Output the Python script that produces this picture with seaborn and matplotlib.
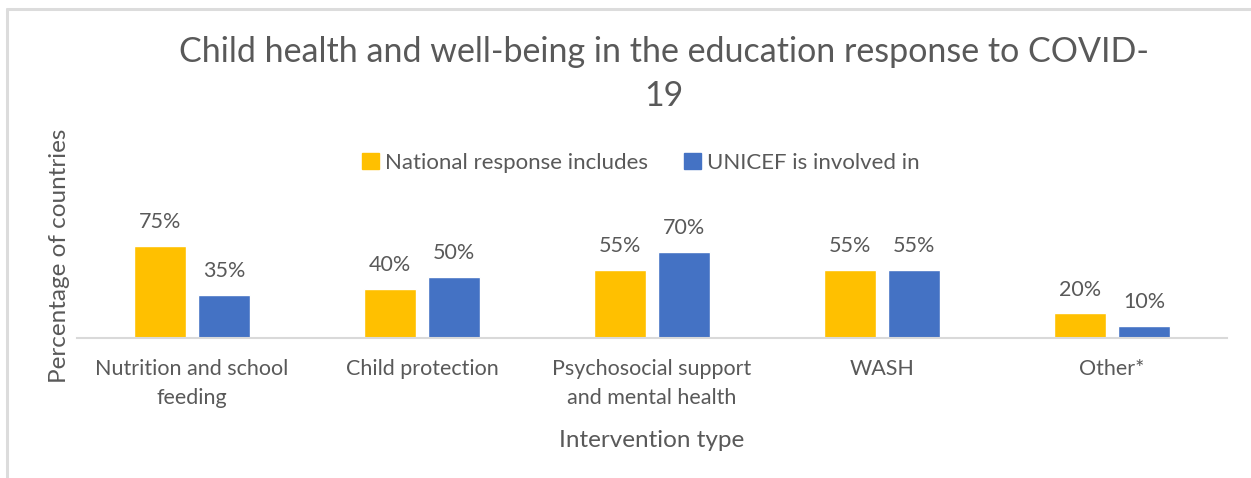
import matplotlib
matplotlib.use("Agg")
import matplotlib.pyplot as plt
import seaborn as sns
import pandas as pd
from matplotlib.lines import Line2D

categories = ["Nutrition and school\nfeeding", "Child protection",
              "Psychosocial support\nand mental health", "WASH", "Other*"]
series_names = ["National response includes", "UNICEF is involved in"]
national = [75, 40, 55, 55, 20]
unicef = [35, 50, 70, 55, 10]
colors = ["#FFC000", "#4472C4"]

df = pd.DataFrame({
    "category": categories * 2,
    "series": [series_names[0]] * len(categories) + [series_names[1]] * len(categories),
    "value": national + unicef,
})

sns.set_theme(style="white")
plt.rcParams["font.family"] = ["Lato", "DejaVu Sans"]
text_color = "#595959"

fig = plt.figure(figsize=(12.51, 4.78), dpi=100)
ax = fig.add_axes([77 / 1251, 1 - 338 / 478, 1150 / 1251, 123 / 478])

sns.barplot(data=df, x="category", y="value", hue="series", palette=colors,
            width=0.557, gap=0.2, saturation=1, ax=ax, legend=False)

ax.set_ylim(0, 100)
ax.set_xlim(-0.5, len(categories) - 0.5)
ax.set_yticks([])
for side in ["top", "right", "left"]:
    ax.spines[side].set_visible(False)
ax.spines["bottom"].set_color("#d9d9d9")
ax.spines["bottom"].set_linewidth(1.5)

for container in ax.containers:
    ax.bar_label(container, labels=[f"{v:.0f}%" for v in container.datavalues],
                 padding=10, fontsize=15.5, color=text_color)

ax.tick_params(axis="x", length=0, pad=15, labelsize=15.5, labelcolor=text_color)
for lbl in ax.get_xticklabels():
    lbl.set_linespacing(1.55)
ax.set_xlabel("Intervention type", fontsize=17.5, color=text_color, labelpad=16)
ax.set_ylabel("")
fig.text(60 / 1251, 1 - 256 / 478, "Percentage of countries", rotation=90,
         ha="center", va="center", fontsize=17.5, color=text_color)

fig.text(664 / 1251, 1 - 74 / 478,
         "Child health and well-being in the education response to COVID-\n19",
         ha="center", va="center", fontsize=24.5, color=text_color, linespacing=1.45)

handles = [plt.Rectangle((0, 0), 1, 1, color=c) for c in colors]
fig.legend(handles, series_names, loc="center", bbox_to_anchor=(641 / 1251, 1 - 163 / 478),
           ncol=2, frameon=False, fontsize=16, labelcolor=text_color,
           handlelength=0.75, handleheight=0.75, handletextpad=0.3, columnspacing=1.6)

# chart area frame (top and left edges)
fig.add_artist(Line2D([7 / 1251, 7 / 1251], [0, 1 - 9 / 478], transform=fig.transFigure,
                      color="#dcdcdc", lw=2.2))
fig.add_artist(Line2D([7 / 1251, 1], [1 - 9 / 478, 1 - 9 / 478], transform=fig.transFigure,
                      color="#dcdcdc", lw=2.2))

fig.savefig("out.png", dpi=100, facecolor="white")
